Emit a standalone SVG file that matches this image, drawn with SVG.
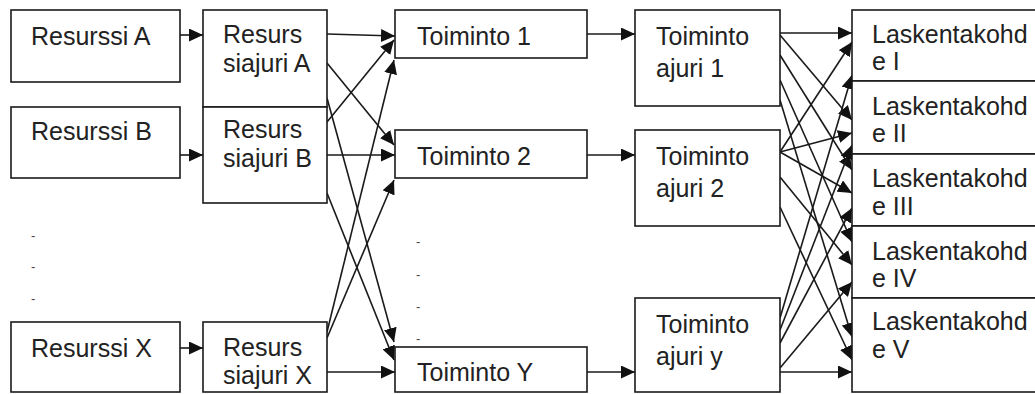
<svg xmlns="http://www.w3.org/2000/svg" width="1035" height="394" viewBox="0 0 1035 394">
<style>
.box{fill:#fff;stroke:#1a1a1a;stroke-width:1.6}
.t{font-family:"Liberation Sans",Arial,sans-serif;font-size:25px;fill:#222}
.tl{font-family:"Liberation Sans",Arial,sans-serif;font-size:25px;fill:#222}
.d{font-family:"Liberation Sans",Arial,sans-serif;font-size:13px;fill:#444}
.c{stroke:#1a1a1a;stroke-width:1.6;fill:none;marker-end:url(#ah)}
</style>
<defs>
<marker id="ah" markerUnits="userSpaceOnUse" markerWidth="15" markerHeight="13" refX="14" refY="6.5" orient="auto">
<path d="M0,0 L14,6.5 L0,13 Z" fill="#111"/>
</marker>
</defs>
<rect width="1035" height="394" fill="#fff"/>
<g id="connectors">
<line class="c" x1="180" y1="35" x2="203" y2="35"/>
<line class="c" x1="180" y1="155" x2="203" y2="155"/>
<line class="c" x1="180" y1="348" x2="203" y2="348"/>
<line class="c" x1="327" y1="34" x2="395" y2="36"/>
<line class="c" x1="327" y1="63" x2="394" y2="145"/>
<line class="c" x1="327" y1="98" x2="394" y2="342"/>
<line class="c" x1="327" y1="122" x2="394" y2="40"/>
<line class="c" x1="327" y1="155" x2="395" y2="155"/>
<line class="c" x1="327" y1="193" x2="394" y2="360"/>
<line class="c" x1="327" y1="332" x2="394" y2="60"/>
<line class="c" x1="327" y1="338" x2="394" y2="180"/>
<line class="c" x1="327" y1="372" x2="395" y2="372"/>
<line class="c" x1="587" y1="34" x2="635" y2="34"/>
<line class="c" x1="587" y1="155" x2="635" y2="155"/>
<line class="c" x1="587" y1="372" x2="635" y2="372"/>
<line class="c" x1="780" y1="33" x2="852" y2="33"/>
<line class="c" x1="780" y1="35" x2="852" y2="120"/>
<line class="c" x1="780" y1="55" x2="852" y2="170"/>
<line class="c" x1="780" y1="80" x2="852" y2="242"/>
<line class="c" x1="780" y1="100" x2="852" y2="337"/>
<line class="c" x1="780" y1="152" x2="852" y2="42"/>
<line class="c" x1="780" y1="152" x2="852" y2="133"/>
<line class="c" x1="780" y1="152" x2="852" y2="193"/>
<line class="c" x1="780" y1="177" x2="852" y2="265"/>
<line class="c" x1="780" y1="207" x2="852" y2="360"/>
<line class="c" x1="780" y1="318" x2="852" y2="75"/>
<line class="c" x1="780" y1="330" x2="852" y2="145"/>
<line class="c" x1="780" y1="343" x2="852" y2="208"/>
<line class="c" x1="780" y1="368" x2="852" y2="282"/>
<line class="c" x1="780" y1="372" x2="852" y2="372"/>
</g>
<g id="resurssiA"><rect class="box" x="11" y="10" width="169" height="72"/><text class="t" x="31" y="45">Resurssi A</text></g>
<g id="resurssiB"><rect class="box" x="11" y="107" width="169" height="71"/><text class="t" x="31" y="140">Resurssi B</text></g>
<g id="resurssiX"><rect class="box" x="11" y="322" width="169" height="70"/><text class="t" x="31" y="357">Resurssi X</text></g>
<g id="dots1"><text class="d" x="31" y="240">-</text><text class="d" x="31" y="271">-</text><text class="d" x="31" y="303">-</text></g>
<g id="siajuriA"><rect class="box" x="203" y="10" width="124" height="97"/><text class="t" x="223" y="43">Resurs</text><text class="t" x="223" y="72">siajuri A</text></g>
<g id="siajuriB"><rect class="box" x="203" y="107" width="124" height="96"/><text class="t" x="223" y="138">Resurs</text><text class="t" x="223" y="167">siajuri B</text></g>
<g id="siajuriX"><rect class="box" x="203" y="322" width="124" height="70"/><text class="t" x="223" y="356">Resurs</text><text class="t" x="223" y="384">siajuri X</text></g>
<g id="toiminto1"><rect class="box" x="395" y="10" width="192" height="48"/><text class="t" x="417" y="45">Toiminto 1</text></g>
<g id="toiminto2"><rect class="box" x="395" y="130" width="192" height="48"/><text class="t" x="417" y="165">Toiminto 2</text></g>
<g id="dots2"><text class="d" x="416" y="246">-</text><text class="d" x="416" y="279">-</text><text class="d" x="416" y="311">-</text><text class="d" x="416" y="343">-</text></g>
<g id="toimintoY"><rect class="box" x="395" y="347" width="192" height="45"/><text class="t" x="417" y="381">Toiminto Y</text></g>
<g id="ajuri1"><rect class="box" x="635" y="10" width="145" height="96"/><text class="t" x="656" y="45">Toiminto</text><text class="t" x="656" y="77">ajuri 1</text></g>
<g id="ajuri2"><rect class="box" x="635" y="130" width="145" height="96"/><text class="t" x="656" y="165">Toiminto</text><text class="t" x="656" y="197">ajuri 2</text></g>
<g id="ajuriY"><rect class="box" x="635" y="298" width="145" height="94"/><text class="t" x="656" y="333">Toiminto</text><text class="t" x="656" y="365">ajuri y</text></g>
<g id="lk1"><rect class="box" x="852" y="10" width="200" height="71"/><text class="tl" x="872" y="43">Laskentakohd</text><text class="tl" x="872" y="70">e I</text></g>
<g id="lk2"><rect class="box" x="852" y="81" width="200" height="73"/><text class="tl" x="872" y="115">Laskentakohd</text><text class="tl" x="872" y="142">e II</text></g>
<g id="lk3"><rect class="box" x="852" y="154" width="200" height="72"/><text class="tl" x="872" y="187">Laskentakohd</text><text class="tl" x="872" y="215">e III</text></g>
<g id="lk4"><rect class="box" x="852" y="226" width="200" height="72"/><text class="tl" x="872" y="260">Laskentakohd</text><text class="tl" x="872" y="287">e IV</text></g>
<g id="lk5"><rect class="box" x="852" y="298" width="200" height="94"/><text class="tl" x="872" y="330">Laskentakohd</text><text class="tl" x="872" y="358">e V</text></g>
</svg>
